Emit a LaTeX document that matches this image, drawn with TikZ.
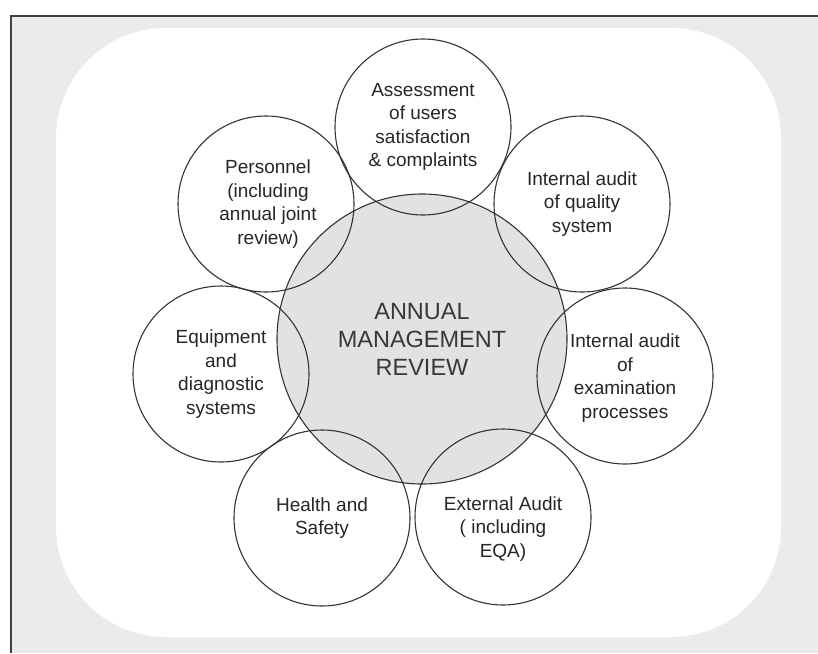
\documentclass[tikz,border=0pt]{standalone}
\usepackage{fontspec}
\setmainfont{Liberation Sans}
\definecolor{panelgray}{HTML}{EBEBEB}
\definecolor{hubgray}{HTML}{E2E2E2}
\definecolor{rimgray}{HTML}{333333}
\begin{document}
\begin{tikzpicture}[x=1pt, y=-1pt,
    spoke/.style={circle, draw=rimgray, line width=1.1pt, minimum size=176pt, inner sep=0pt},
    spoketext/.style={align=center, text=black!85, font=\fontsize{19}{23.5}\selectfont},
    hub/.style={circle, draw=rimgray, fill=hubgray, line width=1.1pt, minimum size=290pt,
      inner sep=0pt, align=center, text=black!78, font=\fontsize{23.5}{28}\selectfont}]
    \useasboundingbox (0,0) rectangle (818,653);
    \fill[white] (0,0) rectangle (818,653);
    \fill[panelgray] (11,16) rectangle (818,653);
    \draw[line width=1.6pt, black!75] (818,16) -- (11,16) -- (11,653);
    \fill[white, rounded corners=110pt] (56,28) rectangle (781,637);

    % centre
    \node[hub] (review) at (422,339) {ANNUAL\\MANAGEMENT\\REVIEW};

    % ring of circles round it
    \node[spoke] (users) at (423,127) {};
    \node[spoke] (staff) at (266,204) {};
    \node[spoke] (quality) at (582,204) {};
    \node[spoke] (equip) at (221,374) {};
    \node[spoke] (exam) at (625,376) {};
    \node[spoke] (safety) at (322,518) {};
    \node[spoke] (external) at (503,517) {};

    \node[spoketext] (userstext) at (users) {Assessment\\of users\\satisfaction\\\& complaints};
    \node[spoketext] (stafftext) at ([xshift=2pt]staff.center) {Personnel\\(including\\annual joint\\review)};
    \node[spoketext] (qualitytext) at (quality) {Internal audit\\of quality\\system};
    \node[spoketext] (equiptext) at (equip) {Equipment\\and\\diagnostic\\systems};
    \node[spoketext] (examtext) at ([yshift=-2pt]exam.center) {Internal audit\\of\\examination\\processes};
    \node[spoketext] (safetytext) at (safety) {Health and\\Safety};
    \node[spoketext] (externaltext) at ([yshift=-12pt]external.center) {External Audit\\( including\\EQA)};
\end{tikzpicture}
\end{document}
